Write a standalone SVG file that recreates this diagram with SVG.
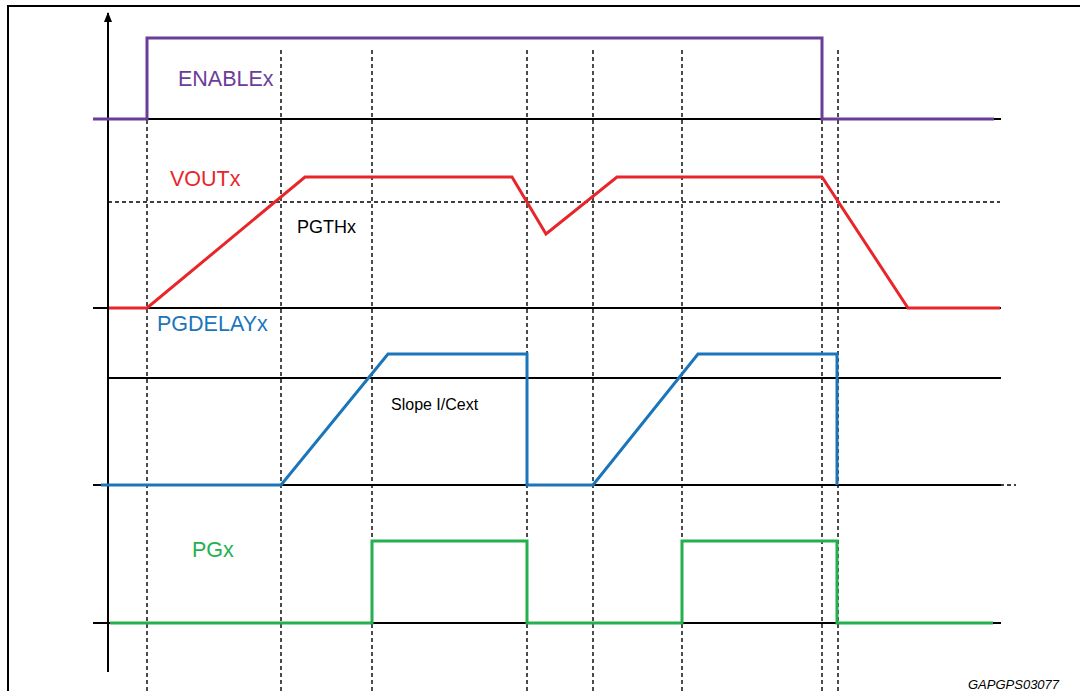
<svg xmlns="http://www.w3.org/2000/svg" width="1080" height="691" viewBox="0 0 1080 691">
<defs>
<style>
.frame{fill:none;stroke:#000;stroke-width:2}
.base{fill:none;stroke:#000;stroke-width:2}
.dash{fill:none;stroke:#000;stroke-width:1.4;stroke-dasharray:4 3}
.sig{fill:none;stroke-width:3;stroke-linejoin:miter}
.en{stroke:#6b3d9a}
.vo{stroke:#e8262a}
.pd{stroke:#1b75bb}
.pg{stroke:#24b04f}
text{font-family:"Liberation Sans",Arial,sans-serif}
</style>
<marker id="arr" markerWidth="10" markerHeight="8" refX="9" refY="4" orient="auto" markerUnits="userSpaceOnUse" viewBox="0 0 10 8">
<path d="M0,0 L10,4 L0,8 Z" fill="#000"/>
</marker>
</defs>
<rect width="1080" height="691" fill="#fff"/>
<g id="frame">
<path class="frame" d="M8,691 V6 H1080"/>
</g>
<g id="grid">
<path class="dash" d="M147,50 V691 M281,50 V691 M372,50 V691 M527,50 V691 M593,50 V691 M682,50 V691 M822,50 V691 M838,50 V691"/>
<path class="dash" d="M108,202 H1000"/>
<path class="dash" d="M1000,485 H1016"/>
</g>
<g id="axes">
<path class="base" d="M108,672 V13" marker-end="url(#arr)"/>
<path class="base" d="M93,119 H1001 M93,308 H1001 M108,378 H1001 M93,485 H1001 M93,623 H1001"/>
</g>
<g id="connectors">
<path id="enable-signal" class="sig en" d="M93,119 H147 V38 H822 V119 H994"/>
<path id="vout-signal" class="sig vo" d="M109,308 H147 L305,177 H512 L546,234 L617,177 H822 L908,308 H1000"/>
<path id="pgdelay-signal" class="sig pd" d="M101,485 H281 L388,354 H527 V485 H593 L698,354 H837 V485"/>
<path id="pg-signal" class="sig pg" d="M110,623 H372 V541 H527 V623 H682 V541 H837 V623 H993"/>
</g>
<g id="label-enable"><text x="178" y="86" font-size="21.5" fill="#6b3d9a">ENABLEx</text></g>
<g id="label-vout"><text x="170" y="186" font-size="21.5" fill="#e8262a">VOUTx</text></g>
<g id="label-pgth"><text x="297" y="233" font-size="18" fill="#000">PGTHx</text></g>
<g id="label-pgdelay"><text x="157" y="331" font-size="21.5" fill="#1b75bb">PGDELAYx</text></g>
<g id="label-slope"><text x="391" y="410" font-size="16" fill="#000">Slope I/Cext</text></g>
<g id="label-pg"><text x="192" y="557" font-size="21.5" fill="#24b04f">PGx</text></g>
<g id="label-ref"><text x="968" y="689" font-size="13" font-style="italic" fill="#000">GAPGPS03077</text></g>
</svg>
